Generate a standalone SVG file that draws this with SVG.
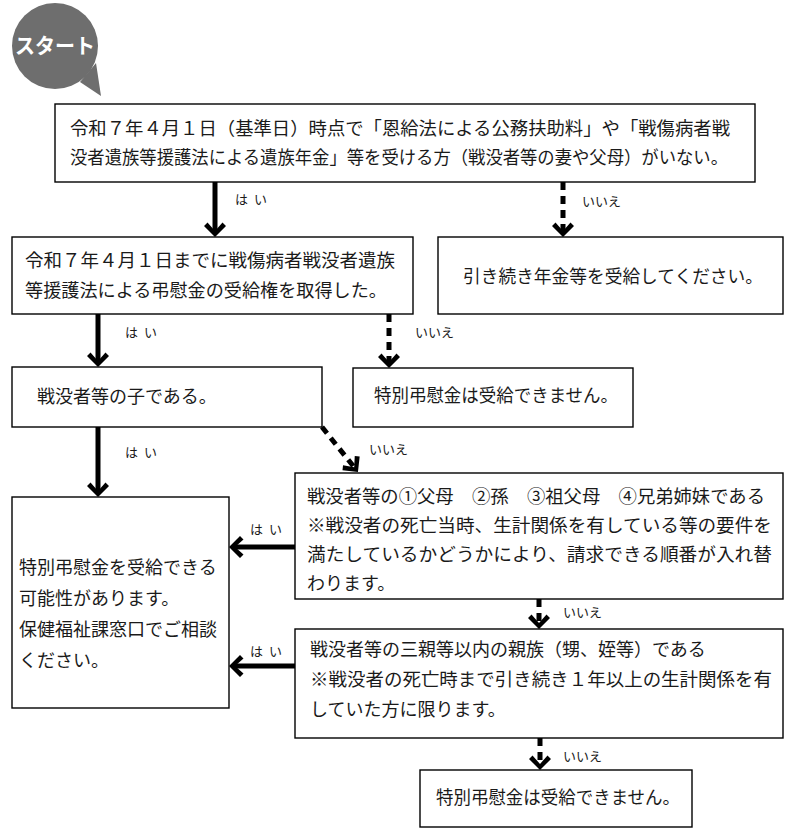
<svg xmlns="http://www.w3.org/2000/svg" width="794" height="831" viewBox="0 0 794 831">
<style>
.box{fill:#fff;stroke:#000;stroke-width:1.4}
.t{font-family:"Noto Sans CJK JP","Noto Sans CJK SC",sans-serif;font-size:18px;fill:#1a1a1a}
.lb{font-family:"Noto Sans CJK JP","Noto Sans CJK SC",sans-serif;font-size:13px;fill:#1a1a1a}
.hy{word-spacing:3px}
.solid{stroke:#000;stroke-width:5;fill:none;marker-end:url(#ah)}
.dash{stroke:#000;stroke-width:5;fill:none;stroke-dasharray:8 6;marker-end:url(#ah)}
</style>
<defs>
<marker id="ah" markerUnits="userSpaceOnUse" viewBox="-15 -12 16 24" markerWidth="16" markerHeight="24" refX="-6" refY="0" orient="auto" overflow="visible">
<polygon points="0,0 -11,11 -14.5,7.5 -6,0 -14.5,-7.5 -11,-11" fill="#000"/>
</marker>
</defs>
<rect width="794" height="831" fill="#fff"/>

<g id="start">
<circle cx="55" cy="46" r="43" fill="#6e6e6e"/>
<polygon points="80,82 96,63 101,96" fill="#6e6e6e"/>
<text x="15" y="53" font-family="'Noto Sans CJK JP',sans-serif" font-weight="bold" font-size="21" fill="#fff" textLength="80" lengthAdjust="spacingAndGlyphs">スタート</text>
</g>

<g id="q1">
<rect class="box" x="55" y="104" width="700" height="78"/>
<text class="t" x="70" y="134.5" textLength="660" lengthAdjust="spacingAndGlyphs">令和７年４月１日（基準日）時点で「恩給法による公務扶助料」や「戦傷病者戦</text>
<text class="t" x="70" y="163.5" textLength="658" lengthAdjust="spacingAndGlyphs">没者遺族等援護法による遺族年金」等を受ける方（戦没者等の妻や父母）がいない。</text>
</g>

<g id="q2">
<rect class="box" x="12" y="237" width="401" height="77"/>
<text class="t" x="25" y="266.5" textLength="370" lengthAdjust="spacingAndGlyphs">令和７年４月１日までに戦傷病者戦没者遺族</text>
<text class="t" x="25" y="296.5" textLength="362" lengthAdjust="spacingAndGlyphs">等援護法による弔慰金の受給権を取得した。</text>
</g>

<g id="r1">
<rect class="box" x="438" y="237" width="345" height="77"/>
<text class="t" x="463" y="283" textLength="300" lengthAdjust="spacingAndGlyphs">引き続き年金等を受給してください。</text>
</g>

<g id="q3">
<rect class="box" x="12" y="367" width="310" height="60"/>
<text class="t" x="37" y="403">戦没者等の子である。</text>
</g>

<g id="r2">
<rect class="box" x="353" y="368" width="280" height="59"/>
<text class="t" x="374" y="402" textLength="244" lengthAdjust="spacingAndGlyphs">特別弔慰金は受給できません。</text>
</g>

<g id="q4">
<rect class="box" x="295" y="473" width="488" height="126"/>
<text class="t" x="307" y="502.5" textLength="458" lengthAdjust="spacingAndGlyphs">戦没者等の①父母　②孫　③祖父母　④兄弟姉妹である</text>
<text class="t" x="307" y="531.5" textLength="465" lengthAdjust="spacingAndGlyphs">※戦没者の死亡当時、生計関係を有している等の要件を</text>
<text class="t" x="307" y="560.5" textLength="465" lengthAdjust="spacingAndGlyphs">満たしているかどうかにより、請求できる順番が入れ替</text>
<text class="t" x="307" y="589.5">わります。</text>
</g>

<g id="ok">
<rect class="box" x="12" y="497" width="217" height="211"/>
<text class="t" x="19" y="574">特別弔慰金を受給できる</text>
<text class="t" x="19" y="605">可能性があります。</text>
<text class="t" x="19" y="636">保健福祉課窓口でご相談</text>
<text class="t" x="19" y="667">ください。</text>
</g>

<g id="q5">
<rect class="box" x="295" y="629" width="488" height="109"/>
<text class="t" x="310" y="656">戦没者等の三親等以内の親族（甥、姪等）である</text>
<text class="t" x="310" y="686" textLength="462" lengthAdjust="spacingAndGlyphs">※戦没者の死亡時まで引き続き１年以上の生計関係を有</text>
<text class="t" x="310" y="716">していた方に限ります。</text>
</g>

<g id="r3">
<rect class="box" x="420" y="770" width="272" height="57"/>
<text class="t" x="436" y="804" textLength="244" lengthAdjust="spacingAndGlyphs">特別弔慰金は受給できません。</text>
</g>

<g id="connectors">
<line class="solid" x1="215" y1="182" x2="215" y2="231"/>
<line class="dash" x1="563" y1="182" x2="563" y2="231"/>
<line class="solid" x1="98" y1="314" x2="98" y2="361"/>
<line class="dash" x1="389" y1="314" x2="389" y2="362"/>
<line class="dash" x1="322" y1="427" x2="354.2" y2="467.3"/>
<line class="solid" x1="98" y1="427" x2="98" y2="491"/>
<line class="solid" x1="295" y1="547" x2="235" y2="547"/>
<line class="dash" x1="539" y1="599" x2="539" y2="623"/>
<line class="solid" x1="295" y1="666" x2="235" y2="666"/>
<line class="dash" x1="540" y1="738" x2="540" y2="764"/>
<text class="lb hy" x="235" y="204">は い</text>
<text class="lb" x="582" y="206">いいえ</text>
<text class="lb hy" x="125" y="337">は い</text>
<text class="lb" x="415" y="337">いいえ</text>
<text class="lb" x="369" y="454">いいえ</text>
<text class="lb hy" x="125" y="457">は い</text>
<text class="lb hy" x="250" y="534">は い</text>
<text class="lb hy" x="250" y="656">は い</text>
<text class="lb" x="563" y="617">いいえ</text>
<text class="lb" x="563" y="761">いいえ</text>
</g>
</svg>
